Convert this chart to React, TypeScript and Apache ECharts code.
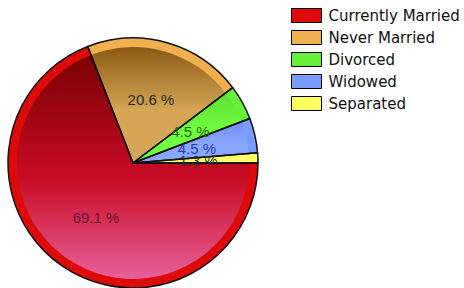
import React, { useEffect, useRef } from "react";
import * as echarts from "echarts";

const categories = ["Currently Married", "Never Married", "Divorced", "Widowed", "Separated"];
const values = [69.1, 20.6, 4.5, 4.5, 1.3];
const baseColors = ["#dd0a0a", "#f0b050", "#66f03a", "#7b9cff", "#ffff60"];
const innerTop = ["#7a0000", "#8a5a14", "#5ee030", "#6f90f4", "#ffff60"];
const innerBottom = ["#e8609a", "#d6a656", "#70ff40", "#88a8ff", "#ffff70"];
const labelColors = ["#6a1030", "#2a2a2a", "#2c6a10", "#2a3aa8", "#333333"];

export default function App() {
  const ref = useRef<HTMLDivElement>(null);
  useEffect(() => {
    if (!ref.current) return;
    const chart = echarts.init(ref.current, undefined, { renderer: "svg" });
    const center = [133, 163];
    const R = 125;
    const rInner = 116;
    chart.setOption({
      animation: false,
      backgroundColor: "#ffffff",
      legend: {
        orient: "vertical",
        left: 286,
        top: 3,
        itemWidth: 30,
        itemHeight: 14,
        itemGap: 7,
        icon: "rect",
        selectedMode: false,
        data: categories.map((c, i) => ({
          name: c,
          itemStyle: { color: baseColors[i], borderColor: "#000", borderWidth: 1 },
        })),
        textStyle: {
          fontFamily: "DejaVu Sans",
          fontSize: 15,
          lineHeight: 14,
          color: "#111111",
          padding: [0, 0, 0, 2],
        },
      },
      series: [
        {
          type: "pie",
          center,
          radius: [0, R],
          startAngle: 0,
          clockwise: true,
          silent: true,
          label: { show: false },
          labelLine: { show: false },
          emphasis: { disabled: true },
          data: categories.map((c, i) => ({
            name: c,
            value: values[i],
            itemStyle: { color: baseColors[i] },
          })),
        },
        {
          type: "pie",
          center,
          radius: [0, rInner],
          startAngle: 0,
          clockwise: true,
          silent: true,
          label: { show: false },
          labelLine: { show: false },
          emphasis: { disabled: true },
          data: categories.map((c, i) => ({
            name: c,
            value: values[i],
            itemStyle: {
              color: {
                type: "linear",
                x: 0,
                y: 0,
                x2: 0,
                y2: 1,
                colorStops: [
                  { offset: 0, color: innerTop[i] },
                  { offset: 0.55, color: i === 0 ? "#c80c24" : innerBottom[i] },
                  { offset: 1, color: innerBottom[i] },
                ],
              },
            },
          })),
        },
        {
          type: "pie",
          center,
          radius: [0, R],
          startAngle: 0,
          clockwise: true,
          silent: true,
          avoidLabelOverlap: false,
          minShowLabelAngle: 0,
          labelLine: { show: false },
          emphasis: { disabled: true },
          labelLayout: { hideOverlap: false },
          label: {
            show: true,
            position: "inside",
            formatter: "{c} %",
            fontFamily: "Liberation Sans",
            fontSize: 15,
          },
          itemStyle: { color: "rgba(0,0,0,0)", borderColor: "#111", borderWidth: 1.5 },
          data: categories.map((c, i) => ({
            name: c,
            value: values[i],
            label: { color: labelColors[i] },
          })),
        },
      ],
    });
    return () => chart.dispose();
  }, []);
  return (
    <div
      ref={ref}
      style={{ position: "fixed", left: 0, top: 0, width: 464, height: 288 }}
    />
  );
}
